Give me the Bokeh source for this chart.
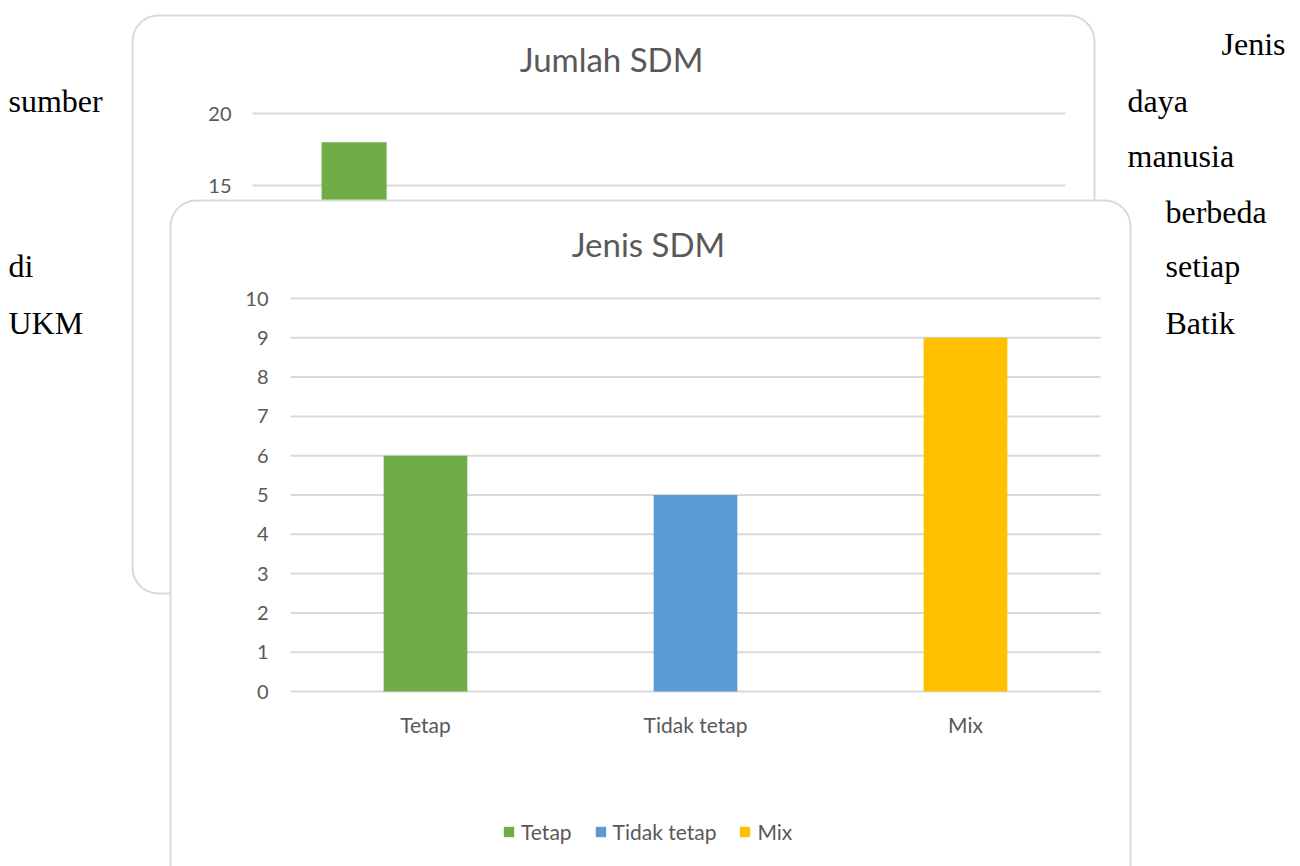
from bokeh.plotting import figure
from bokeh.models import Range1d, ColumnDataSource, Legend, LegendItem
from bokeh.core.properties import value
from bokeh.embed import file_html
from bokeh.resources import INLINE

# ---------------- data ----------------
front_title = "Jenis SDM"
front_categories = ["Tetap", "Tidak tetap", "Mix"]
front_values = [6, 5, 9]
front_colors = ["#70ad47", "#5b9bd5", "#ffc000"]
front_ticks = [0, 1, 2, 3, 4, 5, 6, 7, 8, 9, 10]

back_title = "Jumlah SDM"
back_ticks = [0, 5, 10, 15, 20]
back_values = [18]          # only the first bar of the back chart is visible
back_colors = ["#70ad47"]
back_slot_count = 4

doc_left_words = ["sumber", "di", "UKM"]
doc_right_words_a = ["daya", "manusia"]
doc_right_words_b = ["berbeda", "setiap", "Batik"]
doc_first_word = "Jenis"

# ---------------- layout constants ----------------
W, H = 1300, 866
FONT = "Lato"
GRAY = "#595959"
GRID = "#d9d9d9"

# front chart box and plot area (pixels from top-left)
FB_L, FB_R, FB_T = 170, 1130, 200
F_L, F_R = 290, 1100
F_Y0, F_Y10 = 691, 298
# back chart box and plot area
BB_L, BB_R, BB_T, BB_B = 132, 1094, 15, 593
B_L, B_R = 252, 1065
B_Y20, B_Y15 = 113, 185

n_front = len(front_categories)
f_px_per_cat = (F_R - F_L) / n_front
f_px_per_unit = (F_Y0 - F_Y10) / 10.0
b_px_per_slot = (B_R - B_L) / back_slot_count
b_px_per_unit = (B_Y15 - B_Y20) / 5.0
b_y0 = B_Y20 + 20 * b_px_per_unit

p = figure(width=W, height=H, x_range=Range1d(0, W), y_range=Range1d(H, 0),
           output_backend="svg", toolbar_location=None, min_border=0,
           x_axis_location=None, y_axis_location=None,
           outline_line_color=None, background_fill_color="white",
           border_fill_color="white")
p.grid.visible = False

p.extra_x_ranges = {
    "fx": Range1d(-F_L / f_px_per_cat, (W - F_L) / f_px_per_cat),
    "bx": Range1d(-B_L / b_px_per_slot, (W - B_L) / b_px_per_slot),
}
p.extra_y_ranges = {
    "fy": Range1d(-(H - F_Y0) / f_px_per_unit, F_Y0 / f_px_per_unit),
    "by": Range1d(-(H - b_y0) / b_px_per_unit, b_y0 / b_px_per_unit),
}

# ---------------- back chart ----------------
p.quad(left=BB_L, right=BB_R, top=BB_T, bottom=BB_B, border_radius=26,
       fill_color="white", line_color=GRID, line_width=2)
p.segment(x0=[0] * len(back_ticks), x1=[back_slot_count] * len(back_ticks),
          y0=back_ticks, y1=back_ticks, x_range_name="bx", y_range_name="by",
          line_color=GRID, line_width=2)
p.text(x=[231] * len(back_ticks), y=back_ticks, text=[str(t) for t in back_ticks],
       y_range_name="by", text_align="right", text_baseline="middle",
       text_font=value(FONT), text_font_size="20px", text_color=GRAY)
p.vbar(x=[i + 0.5 for i in range(len(back_values))], top=back_values, bottom=0,
       width=0.32, fill_color=back_colors, line_color=None,
       x_range_name="bx", y_range_name="by")
p.text(x=[(BB_L + BB_R) / 2 - 2], y=[58], text=[back_title], text_align="center",
       text_baseline="middle", text_font=value(FONT), text_font_size="33px",
       text_color=GRAY)

# ---------------- front chart ----------------
p.quad(left=FB_L, right=FB_R, top=FB_T, bottom=900, border_radius=26,
       fill_color="white", line_color=GRID, line_width=2)
p.segment(x0=[0] * len(front_ticks), x1=[n_front] * len(front_ticks),
          y0=front_ticks, y1=front_ticks, x_range_name="fx", y_range_name="fy",
          line_color=GRID, line_width=2)
p.text(x=[268] * len(front_ticks), y=front_ticks, text=[str(t) for t in front_ticks],
       y_range_name="fy", text_align="right", text_baseline="middle",
       text_font=value(FONT), text_font_size="20px", text_color=GRAY)

src = ColumnDataSource(dict(x=[i + 0.5 for i in range(n_front)], top=front_values,
                            color=front_colors, cat=front_categories))
bars = p.vbar(x="x", top="top", bottom=0, width=0.31, fill_color="color",
              line_color=None, source=src, x_range_name="fx", y_range_name="fy")
p.text(x=[i + 0.5 for i in range(n_front)], y=[724] * n_front, text=front_categories,
       x_range_name="fx", text_align="center", text_baseline="middle",
       text_font=value(FONT), text_font_size="21px", text_color=GRAY)
p.text(x=[(FB_L + FB_R) / 2 - 2], y=[243], text=[front_title], text_align="center",
       text_baseline="middle", text_font=value(FONT), text_font_size="33px",
       text_color=GRAY)

legend = Legend(items=[LegendItem(label=c, renderers=[bars], index=i)
                       for i, c in enumerate(front_categories)],
                orientation="horizontal", location=(502, 22),
                padding=0, margin=0, spacing=22, label_standoff=6,
                glyph_width=13, glyph_height=13, label_height=22,
                label_text_font=FONT, label_text_font_size="21px",
                label_text_color=GRAY, background_fill_alpha=0,
                border_line_color=None)
p.add_layout(legend)

# ---------------- surrounding document text ----------------
SERIF = "Liberation Serif"
p.text(x=[1285], y=[43], text=[doc_first_word], text_align="right",
       text_baseline="middle", text_font=value(SERIF), text_font_size="32px",
       text_color="black")
p.text(x=[8] * 3, y=[100, 265, 322], text=doc_left_words, text_align="left",
       text_baseline="middle", text_font=value(SERIF), text_font_size="32px",
       text_color="black")
p.text(x=[1127] * 2, y=[100, 155], text=doc_right_words_a, text_align="left",
       text_baseline="middle", text_font=value(SERIF), text_font_size="32px",
       text_color="black")
p.text(x=[1165] * 3, y=[211, 265, 322], text=doc_right_words_b, text_align="left",
       text_baseline="middle", text_font=value(SERIF), text_font_size="32px",
       text_color="black")

open("out.html", "w").write(file_html(p, INLINE))
